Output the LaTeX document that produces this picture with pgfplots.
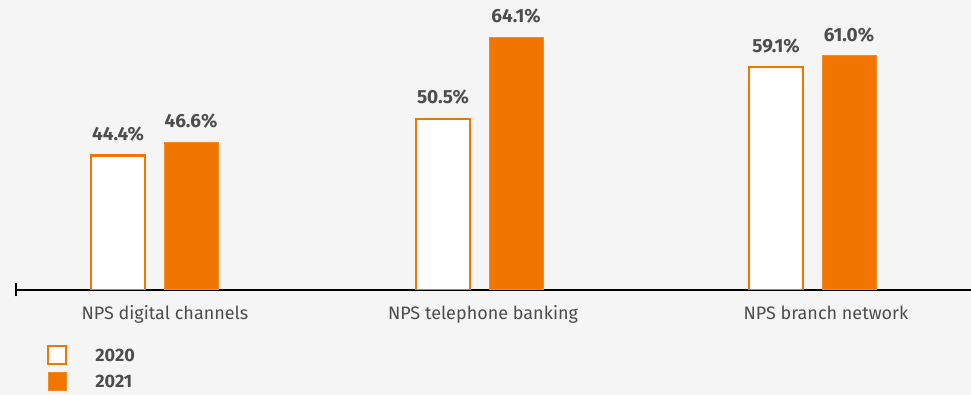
\documentclass[border=0pt]{standalone}
\usepackage{fontspec}
\setmainfont{Fira Sans}
\usepackage{pgfplots}
\pgfplotsset{compat=1.18}
\definecolor{bg}{RGB}{245,245,245}
\definecolor{orng}{RGB}{240,118,0}
\definecolor{orngedge}{RGB}{244,138,36}
\definecolor{txt}{RGB}{77,77,77}
\begin{document}
\begin{tikzpicture}
\path[use as bounding box, fill=bg] (-16pt,-105pt) rectangle (955pt,290pt);
\begin{axis}[
  at={(0,0)}, anchor=south west,
  scale only axis, width=955pt, height=290pt,
  xmin=16, xmax=971, ymin=22, ymax=70.3,
  axis x line=bottom, axis y line=none,
  x axis line style={-, line width=1.6pt, black},
  ytick=\empty,
  xtick={165,483,826},
  xticklabels={NPS digital channels, NPS telephone banking, NPS branch network},
  xtick style={draw=none},
  xticklabel style={font=\fontsize{18}{21}\selectfont, text=txt, yshift=-8pt},
  ybar, bar width=54, bar shift=0pt,
  nodes near coords={\pgfmathprintnumber{\pgfplotspointmeta}\%},
  nodes near coords style={font=\bfseries\fontsize{19}{21}\selectfont, text=txt, anchor=south, yshift=10pt,
     /pgf/number format/.cd, fixed, fixed zerofill, precision=1, assume math mode=true},
  legend style={at={(rel axis cs:0,0)}, anchor=north west, xshift=28pt, yshift=-53pt,
     draw=none, fill=none, font=\bfseries\fontsize{18}{20}\selectfont, text=txt,
     row sep=7pt, legend cell align=left},
  legend image code/.code={\draw[#1] (0pt,-8.5pt) rectangle (18pt,9.5pt);},
]
\addplot[draw=orng, fill=white, line width=2.2pt] coordinates {(118,44.4) (443,50.5) (776,59.1)};
\addplot[draw=orngedge, fill=orng, line width=1pt] coordinates {(191,46.6) (516,64.1) (849,61.0)};
\legend{\hspace{26pt}2020,\hspace{26pt}2021}
\end{axis}
\draw[line width=1.6pt] (0pt,-6.5pt) -- (0pt,6.5pt);
\end{tikzpicture}
\end{document}
